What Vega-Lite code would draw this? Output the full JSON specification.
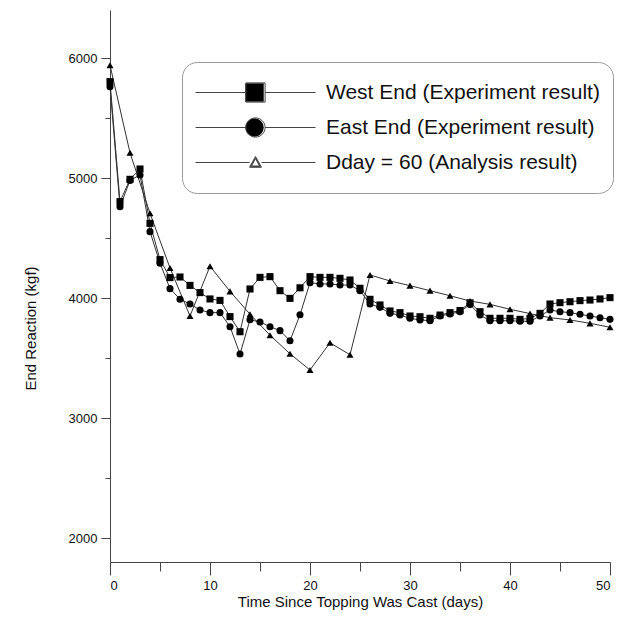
{
  "$schema": "https://vega.github.io/schema/vega-lite/v6.json",
  "width": 500,
  "height": 552,
  "autosize": {"type": "none"},
  "padding": {"left": 110, "top": 10, "right": 10, "bottom": 60},
  "background": "white",
  "config": {"view": {"stroke": null}, "font": "Liberation Sans"},
  "datasets": {
    "pts": [
      {"s":"W","day":0,"v":5803},{"s":"W","day":1,"v":4803},{"s":"W","day":2,"v":4989},{"s":"W","day":3,"v":5075},{"s":"W","day":4,"v":4622},{"s":"W","day":5,"v":4320},{"s":"W","day":6,"v":4170},{"s":"W","day":7,"v":4175},{"s":"W","day":8,"v":4105},{"s":"W","day":9,"v":4045},{"s":"W","day":10,"v":3992},{"s":"W","day":11,"v":3980},{"s":"W","day":12,"v":3845},{"s":"W","day":13,"v":3719},{"s":"W","day":14,"v":4075},{"s":"W","day":15,"v":4172},{"s":"W","day":16,"v":4178},{"s":"W","day":17,"v":4061},{"s":"W","day":18,"v":3997},{"s":"W","day":19,"v":4085},{"s":"W","day":20,"v":4178},{"s":"W","day":21,"v":4172},{"s":"W","day":22,"v":4172},{"s":"W","day":23,"v":4164},{"s":"W","day":24,"v":4150},{"s":"W","day":25,"v":4081},{"s":"W","day":26,"v":3989},{"s":"W","day":27,"v":3942},{"s":"W","day":28,"v":3892},{"s":"W","day":29,"v":3878},{"s":"W","day":30,"v":3850},{"s":"W","day":31,"v":3844},{"s":"W","day":32,"v":3831},{"s":"W","day":33,"v":3858},{"s":"W","day":34,"v":3878},{"s":"W","day":35,"v":3896},{"s":"W","day":36,"v":3960},{"s":"W","day":37,"v":3886},{"s":"W","day":38,"v":3831},{"s":"W","day":39,"v":3831},{"s":"W","day":40,"v":3831},{"s":"W","day":41,"v":3822},{"s":"W","day":42,"v":3830},{"s":"W","day":43,"v":3872},{"s":"W","day":44,"v":3950},{"s":"W","day":45,"v":3961},{"s":"W","day":46,"v":3969},{"s":"W","day":47,"v":3978},{"s":"W","day":48,"v":3983},{"s":"W","day":49,"v":3992},{"s":"W","day":50,"v":4003},
      {"s":"E","day":0,"v":5760},{"s":"E","day":1,"v":4760},{"s":"E","day":2,"v":4980},{"s":"E","day":3,"v":5025},{"s":"E","day":4,"v":4553},{"s":"E","day":5,"v":4290},{"s":"E","day":6,"v":4078},{"s":"E","day":7,"v":3990},{"s":"E","day":8,"v":3950},{"s":"E","day":9,"v":3900},{"s":"E","day":10,"v":3878},{"s":"E","day":11,"v":3878},{"s":"E","day":12,"v":3761},{"s":"E","day":13,"v":3533},{"s":"E","day":14,"v":3819},{"s":"E","day":15,"v":3800},{"s":"E","day":16,"v":3761},{"s":"E","day":17,"v":3728},{"s":"E","day":18,"v":3644},{"s":"E","day":19,"v":3860},{"s":"E","day":20,"v":4128},{"s":"E","day":21,"v":4117},{"s":"E","day":22,"v":4117},{"s":"E","day":23,"v":4108},{"s":"E","day":24,"v":4108},{"s":"E","day":25,"v":4061},{"s":"E","day":26,"v":3950},{"s":"E","day":27,"v":3922},{"s":"E","day":28,"v":3872},{"s":"E","day":29,"v":3858},{"s":"E","day":30,"v":3831},{"s":"E","day":31,"v":3817},{"s":"E","day":32,"v":3811},{"s":"E","day":33,"v":3850},{"s":"E","day":34,"v":3867},{"s":"E","day":35,"v":3886},{"s":"E","day":36,"v":3945},{"s":"E","day":37,"v":3858},{"s":"E","day":38,"v":3811},{"s":"E","day":39,"v":3811},{"s":"E","day":40,"v":3811},{"s":"E","day":41,"v":3806},{"s":"E","day":42,"v":3806},{"s":"E","day":43,"v":3850},{"s":"E","day":44,"v":3900},{"s":"E","day":45,"v":3886},{"s":"E","day":46,"v":3878},{"s":"E","day":47,"v":3864},{"s":"E","day":48,"v":3850},{"s":"E","day":49,"v":3836},{"s":"E","day":50,"v":3822},
      {"s":"D","day":0,"v":5940},{"s":"D","day":2,"v":5210},{"s":"D","day":4,"v":4706},{"s":"D","day":6,"v":4250},{"s":"D","day":8,"v":3850},{"s":"D","day":10,"v":4265},{"s":"D","day":12,"v":4055},{"s":"D","day":14,"v":3865},{"s":"D","day":16,"v":3690},{"s":"D","day":18,"v":3535},{"s":"D","day":20,"v":3400},{"s":"D","day":22,"v":3627},{"s":"D","day":24,"v":3527},{"s":"D","day":26,"v":4192},{"s":"D","day":28,"v":4142},{"s":"D","day":30,"v":4103},{"s":"D","day":32,"v":4061},{"s":"D","day":34,"v":4019},{"s":"D","day":36,"v":3975},{"s":"D","day":38,"v":3947},{"s":"D","day":40,"v":3906},{"s":"D","day":42,"v":3870},{"s":"D","day":44,"v":3836},{"s":"D","day":46,"v":3817},{"s":"D","day":48,"v":3789},{"s":"D","day":50,"v":3756}
    ]
  },
  "data": {"name": "pts"},
  "encoding": {
    "x": {
      "field": "day", "type": "quantitative",
      "scale": {"domain": [0, 50], "nice": false},
      "axis": {
        "title": "Time Since Topping Was Cast (days)",
        "values": [0, 5, 10, 15, 20, 25, 30, 35, 40, 45, 50],
        "labelExpr": "datum.value % 10 === 0 ? datum.label : ''",
        "grid": false,
        "domainColor": "#444",
        "tickColor": "#444",
        "tickSize": {"condition": {"test": "datum.value % 10 === 0", "value": 13}, "value": 9},
        "labelPadding": 4,
        "labelFontSize": 13,
        "labelColor": "#111",
        "labelFont": "Liberation Sans",
        "titleFont": "Liberation Sans",
        "titleFontSize": 15,
        "titleFontWeight": "normal",
        "titleColor": "#111",
        "titlePadding": 2
      }
    },
    "y": {
      "field": "v", "type": "quantitative",
      "scale": {"domain": [1800, 6400], "nice": false, "zero": false},
      "axis": {
        "title": "End Reaction (kgf)",
        "values": [2000, 2500, 3000, 3500, 4000, 4500, 5000, 5500, 6000],
        "format": "d",
        "labelExpr": "datum.value % 1000 === 0 ? datum.label : ''",
        "grid": false,
        "domainColor": "#444",
        "tickColor": "#444",
        "tickSize": {"condition": {"test": "datum.value % 1000 === 0", "value": 9}, "value": 5},
        "labelPadding": 4,
        "labelFontSize": 13,
        "labelColor": "#111",
        "labelFont": "Liberation Sans",
        "titleFont": "Liberation Sans",
        "titleFontSize": 15,
        "titleFontWeight": "normal",
        "titleColor": "#111",
        "titleX": -80,
        "titleY": 318,
        "titleAlign": "center",
        "titleBaseline": "middle",
        "titleAngle": -90
      }
    }
  },
  "layer": [
    {
      "mark": {"type": "line", "color": "#333", "strokeWidth": 1},
      "encoding": {"detail": {"field": "s", "type": "nominal"}}
    },
    {
      "mark": {"type": "point", "filled": true, "opacity": 1, "color": "black", "size": 50},
      "encoding": {
        "shape": {
          "field": "s", "type": "nominal",
          "scale": {"domain": ["W", "E", "D"], "range": ["square", "circle", "triangle-up"]},
          "legend": {
            "title": null,
            "orient": "none",
            "legendX": 122,
            "legendY": 52,
            "padding": 13,
            "rowPadding": 0,
            "clipHeight": 35,
            "values": ["W", "E"],
            "symbolSize": 340,
            "symbolStrokeWidth": 0,
            "symbolOffset": 0,
            "labelFontSize": 1,
            "labelOffset": 0,
            "labelExpr": "''",
            "strokeColor": null,
            "fillColor": null
          }
        }
      }
    },
    {
      "transform": [{"filter": "datum.day < 0"}],
      "mark": {"type": "point", "filled": false, "color": "#444", "strokeWidth": 1, "opacity": 1},
      "encoding": {
        "shape": {
          "field": "s", "type": "nominal",
          "scale": {"domain": ["W", "E", "D"], "range": [
            "M-1,0H-0.16M0.16,0H1M-0.16,-0.16H0.16V0.16H-0.16Z",
            "M-1,0H-0.16M0.16,0H1M-0.16,0A0.16,0.16 0 1,0 0.16,0A0.16,0.16 0 1,0 -0.16,0Z",
            "M-1,0H-0.1M0.1,0H1M0,-0.1L0.1,0.08L-0.1,0.08ZM0,-0.08L-0.082,0.068L0.082,0.068ZM0,-0.065L-0.068,0.058L0.068,0.058Z"
          ]},
          "legend": {
            "title": null,
            "orient": "none",
            "legendX": 72,
            "legendY": 52,
            "padding": 13,
            "rowPadding": 0,
            "clipHeight": 35,
            "symbolSize": 14400,
            "symbolStrokeWidth": 1,
            "symbolOpacity": 1,
            "labelOffset": 10,
            "labelFontSize": 21,
            "labelFont": "Liberation Sans",
            "labelColor": "#111",
            "labelLimit": 400,
            "strokeColor": "#999",
            "cornerRadius": 15,
            "fillColor": null,
            "labelExpr": "datum.value === 'W' ? 'West End (Experiment result)' : datum.value === 'E' ? 'East End (Experiment result)' : 'Dday = 60 (Analysis result)'"
          }
        }
      }
    }
  ],
  "resolve": {"scale": {"shape": "independent"}}
}
